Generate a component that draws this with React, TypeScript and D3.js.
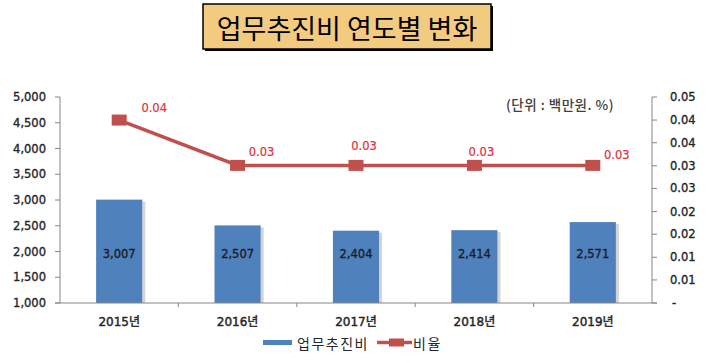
import * as d3 from "d3";

const years = ["2015년", "2016년", "2017년", "2018년", "2019년"];
const expenses = [3007, 2507, 2404, 2414, 2571];
const ratios = [0.0444, 0.0334, 0.0334, 0.0334, 0.0334];
const leftTicks = [1000, 1500, 2000, 2500, 3000, 3500, 4000, 4500, 5000];
const rightTicks = [0, 0.0056, 0.0111, 0.0167, 0.0222, 0.0278, 0.0333, 0.0389, 0.0444, 0.05];
// label nudges [dx, dy] for the ratio labels, as placed in the source
const ratioLabelOffsets = [
  [35, -12],
  [24, -13],
  [8, -19],
  [7, -13],
  [24, -10],
];

const width = 709;
const height = 363;
const plot = { left: 60, right: 652, top: 97, bottom: 303 };

const barColor = "#4f81bd";
const lineColor = "#c0504d";
const axisColor = "#868686";
const textColor = "#262626";
const numFont = "'DejaVu Sans', 'Noto Sans CJK KR', sans-serif";
const krFont = "'Noto Sans CJK KR', 'DejaVu Sans', sans-serif";

const fmtInt = d3.format(",");
const fmtRatio = (v: number) => (v === 0 ? "-" : d3.format(".2f")(v));

// semi-bold look: regular face plus a hairline stroke
const numStyle = (color: string) => ({
  fontFamily: numFont,
  fontSize: 11.5,
  fill: color,
  stroke: color,
  strokeWidth: 0.35,
});

export default function App() {
  const x = d3
    .scaleBand<string>()
    .domain(years)
    .range([plot.left, plot.right])
    .paddingInner(0.61)
    .paddingOuter(0.305);
  const yLeft = d3.scaleLinear().domain([1000, 5000]).range([plot.bottom, plot.top]);
  const yRight = d3.scaleLinear().domain([0, 0.05]).range([plot.bottom, plot.top]);

  const bw = x.bandwidth();
  const step = x.step();
  const cx = (d: string) => (x(d) ?? 0) + bw / 2;

  const line = d3
    .line<number>()
    .x((_, i) => cx(years[i]))
    .y((v) => yRight(v));

  const labelY = yLeft(1950);

  return (
    <svg
      width={width}
      height={height}
      style={{ position: "absolute", left: 0, top: 0, background: "#fff" }}
    >
      {/* title box */}
      <g>
        <rect x={205} y={6} width={288} height={45} fill="#000" />
        <rect x={203} y={4} width={288} height={45} fill="#f3cb80" stroke="#000" strokeWidth={1.5} />
        <text
          x={347}
          y={27}
          textAnchor="middle"
          dominantBaseline="central"
          fontFamily={krFont}
          fontSize={27}
          fontWeight={400}
          fill="#000"
        >
          업무추진비 연도별 변화
        </text>
      </g>

      {/* unit note */}
      <text
        x={560}
        y={104}
        textAnchor="middle"
        dominantBaseline="central"
        fontFamily={krFont}
        fontSize={13.5}
        fontWeight={500}
        letterSpacing={0.5}
        fill="#404040"
      >
        (단위 : 백만원. %)
      </text>

      {/* bars */}
      <g>
        {years.map((yr, i) => (
          <g key={yr}>
            <rect
              x={(x(yr) ?? 0) + bw}
              y={yLeft(expenses[i]) + 2}
              width={3}
              height={plot.bottom - yLeft(expenses[i]) - 2}
              fill="#d4d4d4"
            />
            <rect
              x={x(yr)}
              y={yLeft(expenses[i])}
              width={bw}
              height={plot.bottom - yLeft(expenses[i])}
              fill={barColor}
            />
            <text
              x={cx(yr)}
              y={labelY}
              textAnchor="middle"
              dominantBaseline="central"
              style={numStyle("#1c1c28")}
            >
              {fmtInt(expenses[i])}
            </text>
          </g>
        ))}
      </g>

      {/* axes */}
      <g stroke={axisColor} strokeWidth={1}>
        <line x1={plot.left} x2={plot.left} y1={plot.top} y2={plot.bottom} />
        <line x1={plot.right} x2={plot.right} y1={plot.top} y2={plot.bottom} />
        <line x1={plot.left - 5} x2={plot.right + 5} y1={plot.bottom} y2={plot.bottom} />
        {leftTicks.map((t) => (
          <line key={"l" + t} x1={plot.left - 5} x2={plot.left} y1={yLeft(t)} y2={yLeft(t)} />
        ))}
        {rightTicks.map((t) => (
          <line key={"r" + t} x1={plot.right} x2={plot.right + 5} y1={yRight(t)} y2={yRight(t)} />
        ))}
        {years.slice(0, -1).map((yr) => (
          <line
            key={"x" + yr}
            x1={cx(yr) + step / 2}
            x2={cx(yr) + step / 2}
            y1={plot.bottom}
            y2={plot.bottom + 4}
          />
        ))}
      </g>

      {/* left tick labels */}
      <g>
        {leftTicks.map((t) => (
          <text key={t} x={46} y={yLeft(t)} textAnchor="end" dominantBaseline="central" style={numStyle(textColor)}>
            {fmtInt(t)}
          </text>
        ))}
      </g>

      {/* right tick labels */}
      <g>
        {rightTicks.map((t) => (
          <text key={t} x={t === 0 ? 672 : 670} y={yRight(t)} dominantBaseline="central" style={numStyle(textColor)}>
            {fmtRatio(t)}
          </text>
        ))}
      </g>

      {/* x labels */}
      <g>
        {years.map((yr) => (
          <text
            key={yr}
            x={cx(yr)}
            y={322}
            textAnchor="middle"
            dominantBaseline="central"
            style={{ ...numStyle(textColor), fontSize: 12, strokeWidth: 0.45 }}
          >
            {yr}
          </text>
        ))}
      </g>

      {/* ratio line */}
      <path d={line(ratios) ?? ""} fill="none" stroke={lineColor} strokeWidth={3.5} />
      {ratios.map((v, i) => (
        <g key={"m" + i}>
          <rect x={cx(years[i]) - 7.5} y={yRight(v) - 5.5} width={15} height={11} fill={lineColor} />
          <text
            x={cx(years[i]) + ratioLabelOffsets[i][0]}
            y={yRight(v) + ratioLabelOffsets[i][1]}
            textAnchor="middle"
            dominantBaseline="central"
            style={{ ...numStyle("#e0313c"), strokeWidth: 0.2 }}
          >
            {fmtRatio(v)}
          </text>
        </g>
      ))}

      {/* legend */}
      <g>
        <rect x={263} y={340} width={29} height={5} fill={barColor} />
        <text x={297} y={343} dominantBaseline="central" fontFamily={krFont} fontSize={14} letterSpacing={1.5} fill={textColor}>
          업무추진비
        </text>
        <line x1={377} x2={412} y1={342.5} y2={342.5} stroke={lineColor} strokeWidth={3.5} />
        <rect x={389} y={338.5} width={15} height={8} fill={lineColor} />
        <text x={413} y={343} dominantBaseline="central" fontFamily={krFont} fontSize={14} letterSpacing={1.5} fill={textColor}>
          비율
        </text>
      </g>
    </svg>
  );
}
